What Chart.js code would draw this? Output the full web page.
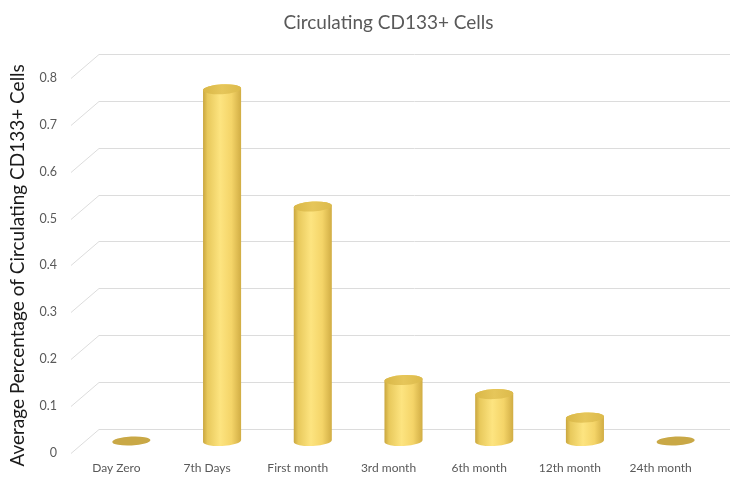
<!DOCTYPE html>
<html>
<head>
<meta charset="utf-8">
<script src="https://cdn.jsdelivr.net/npm/chart.js@4"></script>
<style>
  html, body { margin: 0; padding: 0; background: #fff; }
  #wrap { width: 730px; height: 478px; }
</style>
</head>
<body>
<div id="wrap"><canvas id="c" width="730" height="478"></canvas></div>
<script>
// Sampling time points and average % of circulating CD133+ cells
const categories = ['Day Zero', '7th Days', 'First month', '3rd month', '6th month', '12th month', '24th month'];
const cd133Values = [0, 0.75, 0.5, 0.13, 0.1, 0.05, 0];
const yTicks = [0, 0.1, 0.2, 0.3, 0.4, 0.5, 0.6, 0.7, 0.8];

const FONT = 'Lato, "Open Sans", sans-serif';
const DEPTH_X = 28, DEPTH_Y = 24;   // perspective offset of the back wall

// Back wall and floor grid with a slanted perspective edge
const wallGrid = {
  id: 'wallGrid',
  beforeDatasetsDraw(chart) {
    const { ctx, chartArea, scales } = chart;
    const y = scales.y;
    ctx.save();
    ctx.strokeStyle = '#dcdcdc';
    ctx.lineWidth = 1;
    yTicks.forEach(v => {
      const py = Math.round(y.getPixelForValue(v)) + 0.5;
      ctx.beginPath();
      ctx.moveTo(chartArea.left, py);
      ctx.lineTo(chartArea.left + DEPTH_X, py - DEPTH_Y);
      ctx.lineTo(chart.width, py - DEPTH_Y);
      ctx.stroke();
    });
    ctx.restore();
  }
};

// Cylinders drawn at mid depth from each bar element's geometry
const cylinders = {
  id: 'cylinders',
  afterDatasetsDraw(chart) {
    const { ctx } = chart;
    const meta = chart.getDatasetMeta(0);
    ctx.save();
    meta.data.forEach((bar, i) => {
      const p = bar.getProps(['x', 'y', 'base', 'width'], true);
      const cx = p.x + DEPTH_X / 2 + 1;
      const rx = p.width / 2;
      const ry = 5;
      const rot = -0.05;
      const bottom = p.base - DEPTH_Y / 2;
      const top = p.y - DEPTH_Y / 2;
      if (bottom - top < 1) {
        ctx.fillStyle = '#c9a846';
        ctx.beginPath();
        ctx.ellipse(cx, bottom, rx, ry - 0.5, rot, 0, Math.PI * 2);
        ctx.fill();
        return;
      }
      const g = ctx.createLinearGradient(cx - rx, 0, cx + rx, 0);
      g.addColorStop(0, '#c9a63e');
      g.addColorStop(0.12, '#e8c95c');
      g.addColorStop(0.45, '#fde480');
      g.addColorStop(0.75, '#f4d468');
      g.addColorStop(1, '#d1ad44');
      ctx.fillStyle = g;
      ctx.beginPath();
      ctx.ellipse(cx, top, rx, ry, rot, Math.PI, 0, false);
      ctx.ellipse(cx, bottom, rx, ry, rot, 0, Math.PI, false);
      ctx.closePath();
      ctx.fill();
      const tg = ctx.createLinearGradient(cx - rx, top, cx + rx, top);
      tg.addColorStop(0, '#d9b747');
      tg.addColorStop(0.5, '#e6c65a');
      tg.addColorStop(1, '#dcba4b');
      ctx.fillStyle = tg;
      ctx.beginPath();
      ctx.ellipse(cx, top, rx, ry, rot, 0, Math.PI * 2);
      ctx.fill();
    });
    ctx.restore();
  }
};

new Chart(document.getElementById('c'), {
  type: 'bar',
  data: {
    labels: categories,
    datasets: [{
      label: 'Circulating CD133+ Cells',
      data: cd133Values,
      backgroundColor: 'rgba(0,0,0,0)',
      borderWidth: 0,
      barPercentage: 0.42,
      categoryPercentage: 1
    }]
  },
  options: {
    responsive: false,
    animation: false,
    devicePixelRatio: 1,
    layout: { padding: { left: 0, right: 24, top: 0, bottom: 0 } },
    plugins: {
      legend: { display: false },
      tooltip: { enabled: false },
      title: {
        display: true,
        fullSize: false,
        text: 'Circulating CD133+ Cells',
        color: '#595959',
        font: { family: FONT, size: 19, weight: 'normal' },
        padding: { top: 11, bottom: 44 }
      }
    },
    scales: {
      x: {
        grid: { display: false, drawTicks: false },
        border: { display: false },
        ticks: { color: '#595959', font: { family: FONT, size: 12 }, padding: 8, maxRotation: 0 },
        afterFit(s) { s.height = 25; }
      },
      y: {
        min: 0,
        max: 0.8,
        grid: { display: false, drawTicks: false },
        border: { display: false },
        ticks: {
          stepSize: 0.1,
          color: '#595959',
          padding: 14,
          font: { family: FONT, size: 12.5 },
          callback: v => String(Math.round(v * 10) / 10)
        },
        title: {
          display: true,
          text: 'Average Percentage of Circulating CD133+ Cells',
          color: '#1a1a1a',
          font: { family: FONT, size: 19 },
          padding: { top: 6, bottom: 0 }
        },
        afterFit(s) { s.width = 71; }
      }
    }
  },
  plugins: [wallGrid, cylinders]
});
</script>
</body>
</html>
